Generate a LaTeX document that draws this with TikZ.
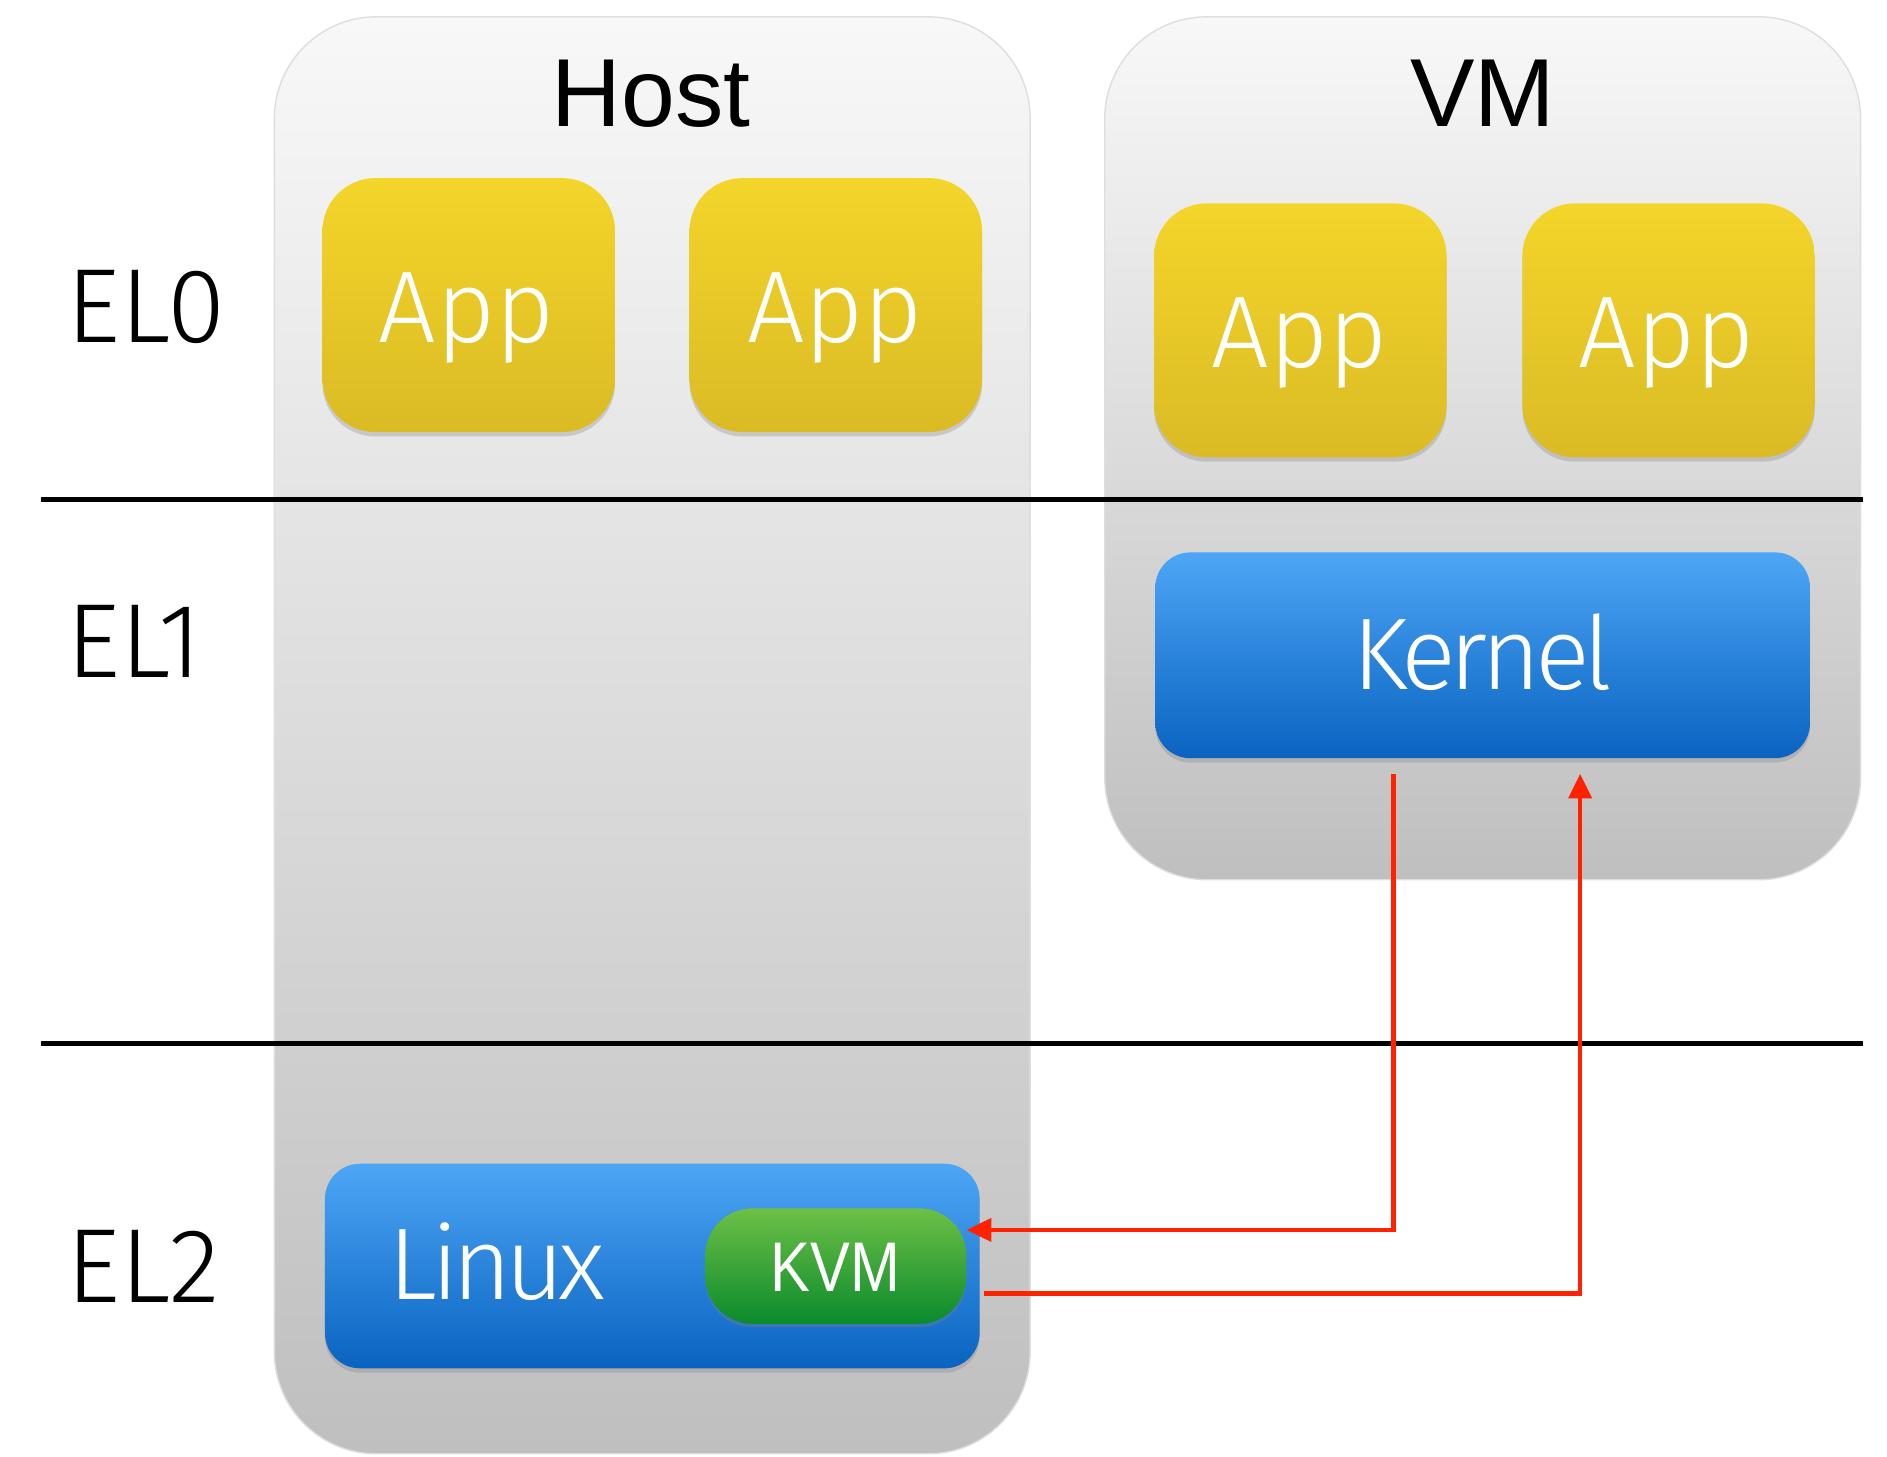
\documentclass[tikz,border=0pt]{standalone}
\usepackage{fontspec}
\setmainfont{Liberation Sans}
\newfontfamily\elfont{Fira Sans Light}
\newfontfamily\thinfont{Fira Sans Light}
\newfontfamily\thinnarrow[LetterSpace=-6]{Fira Sans Light}
\newfontfamily\kvmfont[FakeStretch=0.85]{Liberation Sans}
\usetikzlibrary{shadows,arrows.meta,calc}
\newdimen\pxu \pxu=0.6848pt
\definecolor{paneltop}{HTML}{F8F8F8}
\definecolor{panelbot}{HTML}{BFBFBF}
\definecolor{yeltop}{HTML}{F4D52A}
\definecolor{yelbot}{HTML}{DABB25}
\definecolor{bluetop}{HTML}{4DA6F5}
\definecolor{bluebot}{HTML}{0A63C0}
\definecolor{greentop}{HTML}{6DC046}
\definecolor{greenbot}{HTML}{0A8A2C}
\definecolor{arrowred}{HTML}{FF2200}
\tikzset{
  panel/.style={rounded corners=58pt, draw=black!13, line width=0.8pt,
    top color=paneltop, bottom color=panelbot, inner sep=0pt},
  appbox/.style={rounded corners=30pt, top color=yeltop, bottom color=yelbot,
    inner sep=0pt, drop shadow={shadow xshift=0pt, shadow yshift=-2.5pt, opacity=0.3}},
  bluebox/.style={rounded corners=20pt, top color=bluetop, bottom color=bluebot,
    inner sep=0pt, drop shadow={shadow xshift=0pt, shadow yshift=-2.5pt, opacity=0.3}},
  greenbox/.style={rounded corners=27pt, top color=greentop, bottom color=greenbot,
    inner sep=0pt, drop shadow={shadow xshift=0pt, shadow yshift=-2pt, opacity=0.35}},
  title/.style={anchor=base, font=\fontsize{55}{60}\selectfont, text=black, inner sep=0pt},
  ellabel/.style={anchor=base west, font=\elfont\fontsize{60}{66}\selectfont, text=black, inner sep=0pt},
  whitetext/.style={anchor=base, font=\thinfont\fontsize{58}{64}\selectfont, text=white, inner sep=0pt},
  narrowtext/.style={anchor=base, font=\thinnarrow\fontsize{58}{64}\selectfont, text=white, inner sep=0pt},
  kvmtext/.style={anchor=base, font=\kvmfont\fontsize{40}{44}\selectfont, text=white, inner sep=0pt},
  levelline/.style={line width=2.5pt, black},
  redarrow/.style={line width=2.6pt, arrowred, -{Triangle[length=14pt,width=13pt]}},
}
\begin{document}
\begin{tikzpicture}[x=0.6848pt, y=-0.6848pt]
\useasboundingbox[fill=white] (0,0) rectangle (1568,1210);
% panels
\node[panel, minimum width=628*\pxu, minimum height=1194*\pxu] (host) at (542,611) {};
\node[panel, minimum width=628*\pxu, minimum height=717*\pxu] (vm) at (1232,372.5) {};
\node[title] (hosttitle) at (541,105) {Host};
\node[title] (vmtitle) at (1232,105) {VM};
% level lines
\coordinate (l1a) at (34,415); \coordinate (l1b) at (1548,415);
\coordinate (l2a) at (34,867); \coordinate (l2b) at (1548,867);
\draw[levelline] (l1a) -- (l1b);
\draw[levelline] (l2a) -- (l2b);
% EL labels
\node[ellabel] (el0) at (55,285) {EL0};
\node[ellabel] (el1) at (55,563) {EL1};
\node[ellabel] (el2) at (55,1082) {EL2};
% apps
\node[appbox, minimum width=243*\pxu, minimum height=211*\pxu] (happ1) at (389.5,253.5) {};
\node[appbox, minimum width=243*\pxu, minimum height=211*\pxu] (happ2) at (694.5,253.5) {};
\node[appbox, minimum width=243*\pxu, minimum height=211*\pxu] (vapp1) at (1080.5,274.5) {};
\node[appbox, minimum width=243*\pxu, minimum height=211*\pxu] (vapp2) at (1386.5,274.5) {};
\node[whitetext] (thapp1) at (388,285) {App};
\node[whitetext] (thapp2) at (694,285) {App};
\node[whitetext] (tvapp1) at (1080,305) {App};
\node[whitetext] (tvapp2) at (1385,305) {App};
% kernel
\node[bluebox, minimum width=544*\pxu, minimum height=171*\pxu] (kernel) at (1232,544.5) {};
\node[narrowtext] (tkernel) at (1232,573) {Kernel};
% linux
\node[bluebox, minimum width=544*\pxu, minimum height=170*\pxu] (linux) at (542,1052) {};
\node[narrowtext] (tlinux) at (413,1080) {Linux};
\node[greenbox, minimum width=217*\pxu, minimum height=96*\pxu] (kvm) at (694.5,1052) {};
\node[kvmtext] (tkvm) at (694,1073) {KVM};
% arrows
\coordinate (a1s) at (1158,643);
\coordinate (a2e) at (1313,643);
\coordinate (a2s) at (818,1075);
\draw[redarrow] (a1s) |- ($(kvm.east)+(0,-30)$);
\draw[redarrow] (a2s) -| (a2e);
\end{tikzpicture}
\end{document}
